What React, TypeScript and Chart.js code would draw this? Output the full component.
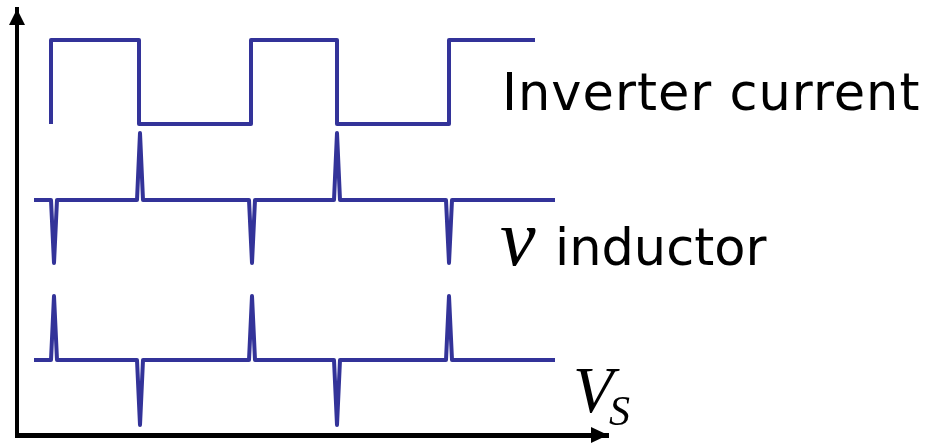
import React, { useEffect, useRef } from 'react';
import { Chart, registerables } from 'chart.js';

Chart.register(...registerables);

// ---- data (time on x, signal level on y, arbitrary units) ----
const inverterEdges = [34, 122, 234, 320, 432];
const inverterEnd = 518;
const inverterLevels = [311, 395]; // low, high

const spikeTimes = [37, 123, 235, 320, 432];
const spikeHalfWidth = 3;
const traceStart = 17;
const traceEnd = 538;

const inductorDirections = [-1, 1, -1, 1, -1];
const inductorLevels = { base: 235, up: 302, down: 172 };

const sourceDirections = [1, -1, 1, -1, 1];
const sourceLevels = { base: 75, up: 139, down: 10 };

const xRange = [0, 591];
const yRange = [0, 426];

const labelInverter = 'Inverter current';
const labelV = 'v';
const labelInductor = 'inductor';
const labelVs = 'V';
const labelVsSub = 'S';

// ---- builders ----
function squareWave() {
  const pts: { x: number; y: number }[] = [];
  let level = 0;
  inverterEdges.forEach((e) => {
    pts.push({ x: e, y: inverterLevels[level] });
    level = 1 - level;
    pts.push({ x: e, y: inverterLevels[level] });
  });
  pts.push({ x: inverterEnd, y: inverterLevels[level] });
  return pts;
}

function spikeTrain(dirs: number[], lv: { base: number; up: number; down: number }) {
  const pts: { x: number; y: number }[] = [{ x: traceStart, y: lv.base }];
  spikeTimes.forEach((t, i) => {
    pts.push({ x: t - spikeHalfWidth, y: lv.base });
    pts.push({ x: t, y: dirs[i] > 0 ? lv.up : lv.down });
    pts.push({ x: t + spikeHalfWidth, y: lv.base });
  });
  pts.push({ x: traceEnd, y: lv.base });
  return pts;
}

const BLUE = '#333399';

const arrowPlugin = {
  id: 'arrows',
  afterDraw(chart: any) {
    const { ctx, chartArea } = chart;
    const { left, top, right, bottom } = chartArea;
    ctx.save();
    ctx.fillStyle = '#000';
    ctx.beginPath();
    ctx.moveTo(left, top);
    ctx.lineTo(left - 8, top + 16);
    ctx.lineTo(left + 8, top + 16);
    ctx.closePath();
    ctx.fill();
    ctx.beginPath();
    ctx.moveTo(right, bottom);
    ctx.lineTo(right - 17, bottom - 8);
    ctx.lineTo(right - 17, bottom + 8);
    ctx.closePath();
    ctx.fill();
    ctx.restore();
  },
};

const labelPlugin = {
  id: 'labels',
  afterDraw(chart: any) {
    const { ctx } = chart;
    ctx.save();
    ctx.fillStyle = '#000';
    ctx.textBaseline = 'alphabetic';
    ctx.textAlign = 'left';
    ctx.font = '51px "DejaVu Sans"';
    (ctx as any).letterSpacing = '1px';
    ctx.fillText(labelInverter, 502, 110);
    (ctx as any).letterSpacing = '0px';
    ctx.fillText(labelInductor, 555, 265);
    ctx.font = 'italic 80px "Liberation Serif"';
    ctx.fillText(labelV, 500, 265);
    ctx.font = 'italic 66px "Liberation Serif"';
    ctx.fillText(labelVs, 573, 412);
    ctx.font = 'italic 42px "Liberation Serif"';
    ctx.fillText(labelVsSub, 609, 425);
    ctx.restore();
  },
};

export default function App() {
  const ref = useRef<HTMLCanvasElement>(null);
  useEffect(() => {
    if (!ref.current) return;
    const lineStyle = {
      borderColor: BLUE,
      borderWidth: 4,
      pointRadius: 0,
      tension: 0,
      fill: false,
      borderJoinStyle: 'round' as const,
      borderCapStyle: 'butt' as const,
    };
    const chart = new Chart(ref.current, {
      type: 'line',
      data: {
        datasets: [
          { label: 'Inverter current', data: squareWave(), ...lineStyle },
          { label: 'v inductor', data: spikeTrain(inductorDirections, inductorLevels), ...lineStyle },
          { label: 'Vs', data: spikeTrain(sourceDirections, sourceLevels), ...lineStyle },
        ],
      },
      options: {
        animation: false,
        responsive: false,
        devicePixelRatio: 1,
        layout: { padding: { left: 17, top: 9, right: 931 - 608, bottom: 443 - 435 } },
        plugins: { legend: { display: false }, tooltip: { enabled: false } },
        scales: {
          x: {
            type: 'linear',
            min: xRange[0],
            max: xRange[1],
            grid: { display: false, drawTicks: false },
            ticks: { display: false },
            border: { display: true, color: '#000', width: 5 },
          },
          y: {
            type: 'linear',
            min: yRange[0],
            max: yRange[1],
            grid: { display: false, drawTicks: false },
            ticks: { display: false },
            border: { display: true, color: '#000', width: 4 },
          },
        },
      },
      plugins: [arrowPlugin, labelPlugin],
    });
    return () => chart.destroy();
  }, []);
  return (
    <div style={{ position: 'fixed', left: 0, top: 0, width: 931, height: 443, background: '#fff' }}>
      <canvas ref={ref} width={931} height={443} style={{ display: 'block' }} />
    </div>
  );
}
